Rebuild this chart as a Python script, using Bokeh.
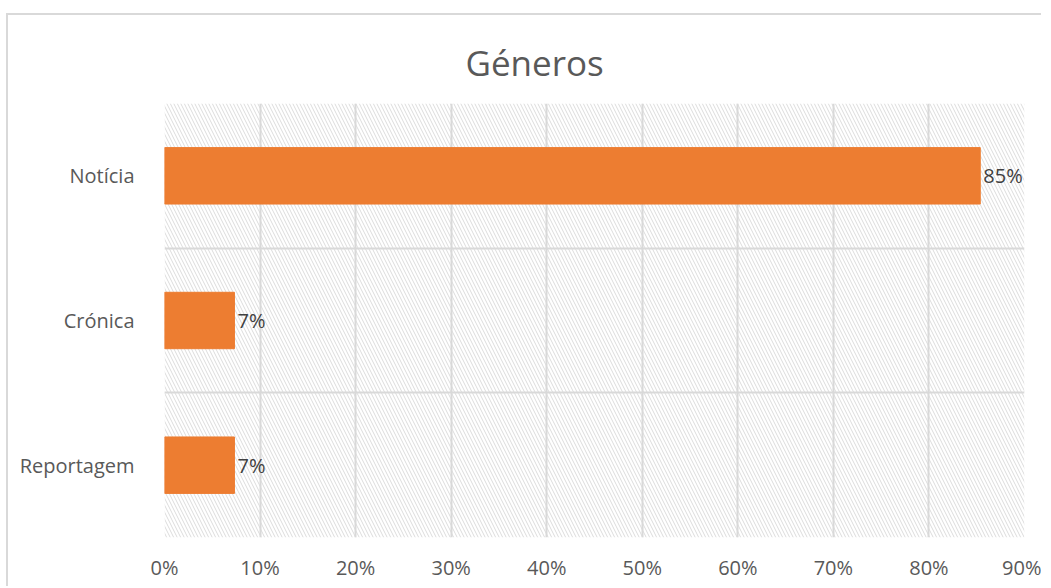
from bokeh.plotting import figure
from bokeh.models import ColumnDataSource, FixedTicker, BoxAnnotation, Title
from bokeh.core.properties import value
from bokeh.embed import file_html
from bokeh.resources import INLINE

categories = ["Notícia", "Crónica", "Reportagem"]
shares = [85.37, 7.32, 7.32]
bar_labels = ["85%", "7%", "7%"]
x_ticks = [0, 10, 20, 30, 40, 50, 60, 70, 80, 90]
x_tick_labels = ["0%", "10%", "20%", "30%", "40%", "50%", "60%", "70%", "80%", "90%"]

n = len(categories)
ypos = [n - i - 0.5 for i in range(n)]

src = ColumnDataSource(dict(y=ypos, x=shares, label=bar_labels, cat=categories))

FONT = "Open Sans"
GRID = "#d9d9d9"

p = figure(width=1035, height=573, x_range=(0, 90), y_range=(0, n),
           output_backend="svg", toolbar_location=None,
           min_border_left=156, min_border_right=19, min_border_top=88, min_border_bottom=51)
p.styles = {"border-left": "2px solid #d9d9d9", "border-top": "2px solid #d9d9d9",
            "margin-left": "6px", "margin-top": "13px"}

p.title = Title(text="Géneros", align="left", offset=301, text_font_size="35px",
                text_color="#595959", text_font=FONT, text_font_style="normal", standoff=35)

hatch = BoxAnnotation(fill_alpha=0, line_color=None, hatch_pattern="left_diagonal_line",
                      hatch_color="#dcdcdc", hatch_scale=7, hatch_weight=1, level="image")
p.add_layout(hatch)

p.hbar(y="y", right="x", left=0, height=0.39, source=src, color="#ED7D31")
p.text(x="x", y="y", text="label", source=src, x_offset=3, text_align="left",
       text_baseline="middle", text_font=value(FONT), text_font_size="20px", text_color="#404040")

p.xaxis.ticker = FixedTicker(ticks=x_ticks)
p.xaxis.major_label_overrides = {t: l for t, l in zip(x_ticks, x_tick_labels)}
p.yaxis.ticker = FixedTicker(ticks=ypos)
p.yaxis.major_label_overrides = {y: c for y, c in zip(ypos, categories)}
for ax in (p.xaxis, p.yaxis):
    ax.axis_line_color = None
    ax.major_tick_line_color = None
    ax.minor_tick_line_color = None
    ax.major_label_text_font = FONT
    ax.major_label_text_font_size = "20px"
    ax.major_label_text_color = "#595959"
p.xaxis.major_label_standoff = 10
p.yaxis.major_label_standoff = 24

p.xgrid.ticker = FixedTicker(ticks=x_ticks)
p.ygrid.ticker = FixedTicker(ticks=list(range(n + 1)))
p.grid.grid_line_color = GRID
p.grid.grid_line_width = 2
p.outline_line_color = None
p.background_fill_color = "white"
p.border_fill_color = "white"

open("out.html", "w").write(file_html(p, INLINE))
